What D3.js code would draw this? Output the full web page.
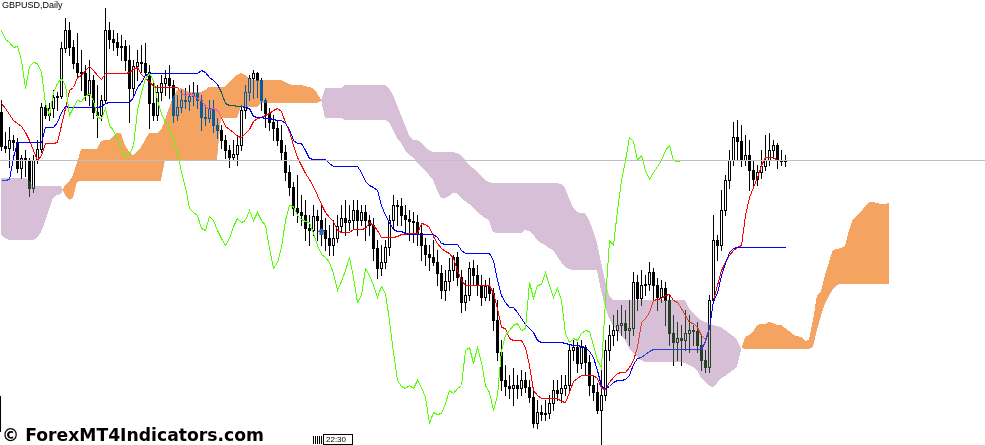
<!DOCTYPE html>
<html><head><meta charset="utf-8">
<script src="https://cdn.jsdelivr.net/npm/d3@7/dist/d3.min.js"></script>
<style>html,body{margin:0;padding:0;background:#fff;overflow:hidden}svg{display:block}</style>
</head><body><svg id="chart" width="985" height="445"></svg>
<script>
// ---- labels ----
const symbolLabel = "GBPUSD,Daily";
const watermark = "\u00A9 ForexMT4Indicators.com";
const timeLabel = "22:30";

// ---- daily candles (price) ----
const open = [
1.4888,1.4854,1.4852,1.4860,1.4858,1.4832,1.4842,1.4840,1.4812,1.4840,
1.4851,1.4893,1.4885,1.4892,1.4903,1.4904,1.4952,1.4970,1.4953,1.4937,
1.4928,1.4927,1.4905,1.4920,1.4888,1.4885,1.4900,1.4970,1.4961,1.4958,
1.4953,1.4954,1.4940,1.4912,1.4934,1.4938,1.4937,1.4928,1.4897,1.4885,
1.4908,1.4917,1.4922,1.4915,1.4885,1.4893,1.4900,1.4899,1.4904,1.4907,
1.4900,1.4883,1.4882,1.4892,1.4875,1.4870,1.4860,1.4850,1.4843,1.4846,
1.4855,1.4890,1.4908,1.4922,1.4927,1.4920,1.4900,1.4887,1.4878,1.4872,
1.4860,1.4848,1.4828,1.4813,1.4792,1.4788,1.4785,1.4772,1.4770,1.4784,
1.4780,1.4770,1.4762,1.4755,1.4762,1.4774,1.4782,1.4778,1.4780,1.4790,
1.4780,1.4788,1.4780,1.4775,1.4752,1.4732,1.4738,1.4753,1.4780,1.4795,
1.4794,1.4785,1.4781,1.4779,1.4778,1.4767,1.4755,1.4746,1.4743,1.4738,
1.4727,1.4710,1.4719,1.4730,1.4743,1.4723,1.4698,1.4705,1.4732,1.4725,
1.4715,1.4703,1.4714,1.4707,1.4680,1.4648,1.4620,1.4614,1.4612,1.4615,
1.4612,1.4620,1.4613,1.4603,1.4577,1.4588,1.4586,1.4587,1.4597,1.4610,
1.4607,1.4612,1.4615,1.4650,1.4653,1.4637,1.4653,1.4638,1.4615,1.4608,
1.4590,1.4605,1.4650,1.4665,1.4670,1.4675,1.4677,1.4670,1.4672,1.4718,
1.4702,1.4715,1.4716,1.4728,1.4715,1.4703,1.4712,1.4700,1.4667,1.4658,
1.4662,1.4660,1.4667,1.4670,1.4669,1.4655,1.4640,1.4633,1.4700,1.4760,
1.4755,1.4790,1.4820,1.4840,1.4863,1.4859,1.4840,1.4845,1.4830,1.4821,
1.4828,1.4834,1.4840,1.4850,1.4855,1.4840,1.4839];
const high = [
1.4900,1.4868,1.4873,1.4865,1.4862,1.4845,1.4850,1.4842,1.4845,1.4860,
1.4897,1.4900,1.4897,1.4910,1.4908,1.4958,1.4982,1.4978,1.4960,1.4967,
1.4950,1.4935,1.4940,1.4925,1.4915,1.4905,1.4992,1.4978,1.4970,1.4967,
1.4965,1.4960,1.4955,1.4940,1.4950,1.4955,1.4957,1.4935,1.4917,1.4915,
1.4925,1.4930,1.4935,1.4920,1.4905,1.4910,1.4912,1.4915,1.4918,1.4915,
1.4905,1.4895,1.4900,1.4900,1.4882,1.4875,1.4865,1.4855,1.4860,1.4865,
1.4895,1.4915,1.4925,1.4930,1.4928,1.4922,1.4902,1.4892,1.4885,1.4880,
1.4875,1.4855,1.4835,1.4818,1.4825,1.4805,1.4800,1.4785,1.4795,1.4790,
1.4795,1.4782,1.4775,1.4780,1.4785,1.4795,1.4800,1.4795,1.4800,1.4800,
1.4795,1.4795,1.4785,1.4782,1.4760,1.4755,1.4760,1.4785,1.4805,1.4800,
1.4802,1.4795,1.4790,1.4788,1.4785,1.4775,1.4762,1.4755,1.4760,1.4750,
1.4735,1.4730,1.4742,1.4745,1.4748,1.4730,1.4720,1.4738,1.4740,1.4735,
1.4725,1.4720,1.4722,1.4712,1.4700,1.4660,1.4635,1.4625,1.4632,1.4625,
1.4630,1.4628,1.4620,1.4610,1.4600,1.4595,1.4600,1.4605,1.4620,1.4620,
1.4625,1.4625,1.4655,1.4660,1.4658,1.4660,1.4655,1.4645,1.4625,1.4617,
1.4630,1.4660,1.4675,1.4685,1.4690,1.4695,1.4690,1.4700,1.4728,1.4725,
1.4730,1.4725,1.4738,1.4732,1.4722,1.4720,1.4718,1.4705,1.4685,1.4678,
1.4675,1.4690,1.4685,1.4675,1.4678,1.4665,1.4650,1.4705,1.4785,1.4765,
1.4810,1.4825,1.4850,1.4878,1.4880,1.4875,1.4865,1.4860,1.4840,1.4835,
1.4850,1.4865,1.4867,1.4860,1.4857,1.4850,1.4845];
const low = [
1.4850,1.4848,1.4833,1.4850,1.4828,1.4822,1.4824,1.4804,1.4808,1.4837,
1.4848,1.4882,1.4880,1.4883,1.4890,1.4902,1.4948,1.4945,1.4932,1.4923,
1.4910,1.4900,1.4895,1.4882,1.4863,1.4880,1.4898,1.4952,1.4950,1.4945,
1.4940,1.4930,1.4878,1.4905,1.4920,1.4928,1.4925,1.4872,1.4880,1.4880,
1.4900,1.4905,1.4902,1.4878,1.4880,1.4888,1.4892,1.4890,1.4895,1.4892,
1.4870,1.4875,1.4878,1.4868,1.4862,1.4852,1.4842,1.4833,1.4840,1.4835,
1.4850,1.4882,1.4900,1.4902,1.4903,1.4890,1.4873,1.4870,1.4860,1.4855,
1.4840,1.4820,1.4805,1.4785,1.4778,1.4775,1.4760,1.4755,1.4765,1.4760,
1.4755,1.4750,1.4745,1.4745,1.4758,1.4768,1.4765,1.4770,1.4772,1.4765,
1.4775,1.4760,1.4765,1.4740,1.4722,1.4725,1.4732,1.4745,1.4772,1.4775,
1.4775,1.4768,1.4760,1.4758,1.4755,1.4740,1.4735,1.4730,1.4735,1.4715,
1.4702,1.4700,1.4710,1.4720,1.4715,1.4688,1.4690,1.4700,1.4715,1.4705,
1.4695,1.4700,1.4700,1.4670,1.4640,1.4610,1.4605,1.4602,1.4595,1.4602,
1.4605,1.4608,1.4598,1.4573,1.4572,1.4580,1.4580,1.4582,1.4590,1.4600,
1.4598,1.4605,1.4610,1.4640,1.4628,1.4632,1.4625,1.4605,1.4600,1.4587,
1.4555,1.4600,1.4640,1.4655,1.4660,1.4665,1.4662,1.4655,1.4665,1.4690,
1.4695,1.4705,1.4710,1.4700,1.4690,1.4698,1.4675,1.4655,1.4635,1.4640,
1.4635,1.4650,1.4648,1.4655,1.4648,1.4630,1.4628,1.4628,1.4697,1.4740,
1.4750,1.4785,1.4812,1.4835,1.4840,1.4834,1.4835,1.4810,1.4815,1.4815,
1.4822,1.4830,1.4835,1.4842,1.4832,1.4835,1.4834];
const close = [
1.4854,1.4852,1.4860,1.4858,1.4832,1.4842,1.4840,1.4812,1.4840,1.4851,
1.4893,1.4885,1.4892,1.4903,1.4904,1.4952,1.4970,1.4953,1.4937,1.4928,
1.4927,1.4905,1.4920,1.4888,1.4885,1.4900,1.4970,1.4961,1.4958,1.4953,
1.4954,1.4940,1.4912,1.4934,1.4938,1.4937,1.4928,1.4897,1.4885,1.4908,
1.4917,1.4922,1.4915,1.4885,1.4893,1.4900,1.4899,1.4904,1.4907,1.4900,
1.4883,1.4882,1.4892,1.4875,1.4870,1.4860,1.4850,1.4843,1.4846,1.4855,
1.4890,1.4908,1.4922,1.4927,1.4920,1.4900,1.4887,1.4878,1.4872,1.4860,
1.4848,1.4828,1.4813,1.4792,1.4788,1.4785,1.4772,1.4770,1.4784,1.4780,
1.4770,1.4762,1.4755,1.4762,1.4774,1.4782,1.4778,1.4780,1.4790,1.4780,
1.4788,1.4780,1.4775,1.4752,1.4732,1.4738,1.4753,1.4780,1.4795,1.4794,
1.4785,1.4781,1.4779,1.4778,1.4767,1.4755,1.4746,1.4743,1.4738,1.4727,
1.4710,1.4719,1.4730,1.4743,1.4723,1.4698,1.4705,1.4732,1.4725,1.4715,
1.4703,1.4714,1.4707,1.4680,1.4648,1.4620,1.4614,1.4612,1.4615,1.4612,
1.4620,1.4613,1.4603,1.4577,1.4588,1.4586,1.4587,1.4597,1.4610,1.4607,
1.4612,1.4615,1.4650,1.4653,1.4637,1.4653,1.4638,1.4615,1.4608,1.4590,
1.4605,1.4650,1.4665,1.4670,1.4675,1.4677,1.4670,1.4672,1.4718,1.4702,
1.4715,1.4716,1.4728,1.4715,1.4703,1.4712,1.4700,1.4667,1.4658,1.4662,
1.4660,1.4667,1.4670,1.4669,1.4655,1.4640,1.4633,1.4700,1.4760,1.4755,
1.4790,1.4820,1.4840,1.4863,1.4859,1.4840,1.4845,1.4830,1.4821,1.4828,
1.4834,1.4840,1.4850,1.4855,1.4840,1.4839,1.4840];

// ---- Ichimoku lines (price per bar) ----
const tenkan = [
1.4897,1.4892,1.4886,1.4880,1.4877,1.4874,1.4868,1.4860,1.4850,1.4840,
1.4845,1.4857,1.4857,1.4857,1.4858,1.4875,1.4892,1.4910,1.4913,1.4923,
1.4925,1.4930,1.4934,1.4930,1.4925,1.4921,1.4927,1.4927,1.4927,1.4927,
1.4927,1.4927,1.4928,1.4931,1.4933,1.4926,1.4922,1.4919,1.4914,1.4913,
1.4913,1.4913,1.4913,1.4913,1.4913,1.4907,1.4905,1.4907,1.4905,1.4902,
1.4900,1.4894,1.4891,1.4892,1.4890,1.4883,1.4874,1.4871,1.4868,1.4864,
1.4863,1.4867,1.4871,1.4879,1.4882,1.4883,1.4885,1.4887,1.4890,1.4892,
1.4889,1.4878,1.4869,1.4855,1.4843,1.4835,1.4827,1.4821,1.4814,1.4805,
1.4796,1.4788,1.4783,1.4779,1.4770,1.4768,1.4768,1.4768,1.4771,1.4771,
1.4771,1.4772,1.4778,1.4775,1.4770,1.4763,1.4763,1.4763,1.4763,1.4764,
1.4766,1.4766,1.4767,1.4767,1.4767,1.4777,1.4776,1.4773,1.4764,1.4757,
1.4752,1.4749,1.4747,1.4742,1.4730,1.4720,1.4715,1.4715,1.4715,1.4715,
1.4715,1.4715,1.4715,1.4707,1.4692,1.4673,1.4672,1.4662,1.4660,1.4660,
1.4660,1.4653,1.4635,1.4610,1.4605,1.4602,1.4602,1.4602,1.4602,1.4602,
1.4599,1.4598,1.4608,1.4619,1.4622,1.4625,1.4625,1.4625,1.4625,1.4622,
1.4612,1.4611,1.4618,1.4623,1.4627,1.4628,1.4628,1.4633,1.4640,1.4653,
1.4678,1.4682,1.4688,1.4700,1.4701,1.4702,1.4705,1.4706,1.4700,1.4698,
1.4692,1.4685,1.4678,1.4677,1.4673,1.4665,1.4661,1.4672,1.4700,1.4715,
1.4730,1.4738,1.4745,1.4750,1.4753,1.4755,1.4785,1.4803,1.4813,1.4823,
1.4835,1.4843,1.4843,1.4843,1.4840,1.4840,1.4840];
const kijun = [
1.4820,1.4820,1.4821,1.4843,1.4858,1.4858,1.4858,1.4858,1.4858,1.4858,
1.4858,1.4873,1.4873,1.4873,1.4878,1.4888,1.4894,1.4893,1.4893,1.4893,
1.4893,1.4893,1.4893,1.4893,1.4893,1.4894,1.4897,1.4898,1.4898,1.4898,
1.4898,1.4898,1.4898,1.4903,1.4913,1.4918,1.4925,1.4927,1.4927,1.4927,
1.4927,1.4927,1.4927,1.4927,1.4927,1.4927,1.4927,1.4927,1.4927,1.4927,
1.4930,1.4928,1.4923,1.4920,1.4916,1.4908,1.4897,1.4895,1.4895,1.4894,
1.4894,1.4893,1.4892,1.4884,1.4883,1.4883,1.4882,1.4882,1.4881,1.4880,
1.4880,1.4877,1.4871,1.4860,1.4857,1.4857,1.4850,1.4842,1.4841,1.4841,
1.4841,1.4841,1.4837,1.4834,1.4834,1.4834,1.4834,1.4834,1.4834,1.4834,
1.4828,1.4819,1.4815,1.4813,1.4810,1.4795,1.4785,1.4778,1.4771,1.4769,
1.4769,1.4767,1.4766,1.4766,1.4766,1.4766,1.4766,1.4766,1.4766,1.4763,
1.4757,1.4756,1.4756,1.4756,1.4756,1.4750,1.4747,1.4747,1.4747,1.4747,
1.4747,1.4747,1.4747,1.4740,1.4720,1.4705,1.4698,1.4693,1.4693,1.4688,
1.4682,1.4676,1.4672,1.4668,1.4660,1.4658,1.4658,1.4658,1.4658,1.4658,
1.4658,1.4657,1.4656,1.4655,1.4655,1.4654,1.4653,1.4649,1.4643,1.4630,
1.4614,1.4612,1.4614,1.4618,1.4620,1.4620,1.4621,1.4625,1.4636,1.4642,
1.4643,1.4646,1.4649,1.4651,1.4651,1.4651,1.4651,1.4651,1.4651,1.4651,
1.4651,1.4651,1.4651,1.4651,1.4651,1.4651,1.4659,1.4672,1.4700,1.4707,
1.4725,1.4737,1.4748,1.4752,1.4753,1.4753,1.4753,1.4753,1.4753,1.4753,
1.4753,1.4753,1.4753,1.4753,1.4753,1.4753,1.4753];
// Senkou spans: 197 bars + 26 projected bars
const spanA = [
1.4765,1.4762,1.4760,1.4760,1.4760,1.4760,1.4760,1.4760,1.4760,1.4762,
1.4768,1.4778,1.4790,1.4802,1.4805,1.4806,1.4815,1.4818,1.4825,1.4837,
1.4851,1.4851,1.4851,1.4851,1.4851,1.4859,1.4860,1.4860,1.4864,1.4867,
1.4867,1.4855,1.4848,1.4845,1.4848,1.4853,1.4860,1.4867,1.4867,1.4867,
1.4870,1.4880,1.4892,1.4903,1.4910,1.4912,1.4910,1.4908,1.4908,1.4908,
1.4908,1.4910,1.4913,1.4913,1.4913,1.4913,1.4913,1.4918,1.4922,1.4925,
1.4927,1.4925,1.4922,1.4920,1.4920,1.4920,1.4920,1.4920,1.4920,1.4920,
1.4920,1.4918,1.4916,1.4915,1.4915,1.4915,1.4914,1.4913,1.4912,1.4907,
1.4900,1.4882,1.4882,1.4882,1.4882,1.4882,1.4880,1.4880,1.4880,1.4880,
1.4880,1.4880,1.4880,1.4880,1.4880,1.4880,1.4880,1.4878,1.4870,1.4862,
1.4857,1.4850,1.4845,1.4843,1.4837,1.4833,1.4829,1.4825,1.4820,1.4810,
1.4802,1.4802,1.4804,1.4807,1.4807,1.4802,1.4799,1.4796,1.4792,1.4788,
1.4785,1.4782,1.4780,1.4768,1.4767,1.4767,1.4767,1.4767,1.4767,1.4767,
1.4767,1.4770,1.4769,1.4766,1.4760,1.4757,1.4755,1.4752,1.4750,1.4744,
1.4738,1.4733,1.4731,1.4730,1.4730,1.4730,1.4730,1.4730,1.4730,1.4730,
1.4710,1.4693,1.4682,1.4674,1.4670,1.4665,1.4660,1.4652,1.4647,1.4643,
1.4640,1.4638,1.4638,1.4638,1.4638,1.4638,1.4638,1.4638,1.4638,1.4638,
1.4638,1.4637,1.4635,1.4633,1.4630,1.4622,1.4618,1.4614,1.4613,1.4617,
1.4622,1.4624,1.4627,1.4630,1.4634,1.4650,1.4663,1.4665,1.4668,1.4675,
1.4676,1.4676,1.4678,1.4677,1.4675,1.4675,1.4672,1.4669,1.4665,1.4664,
1.4663,1.4659,1.4660,1.4680,1.4705,1.4709,1.4725,1.4738,1.4750,1.4751,
1.4752,1.4754,1.4770,1.4781,1.4785,1.4788,1.4794,1.4798,1.4798,1.4797,
1.4796,1.4796,1.4797];
const spanB = [
1.4822,1.4822,1.4822,1.4822,1.4822,1.4822,1.4822,1.4820,1.4814,1.4814,
1.4814,1.4814,1.4814,1.4814,1.4814,1.4814,1.4805,1.4800,1.4802,1.4818,
1.4819,1.4819,1.4819,1.4819,1.4819,1.4819,1.4819,1.4819,1.4819,1.4819,
1.4819,1.4819,1.4819,1.4819,1.4819,1.4819,1.4819,1.4819,1.4819,1.4819,
1.4819,1.4840,1.4840,1.4840,1.4840,1.4840,1.4840,1.4840,1.4840,1.4840,
1.4840,1.4840,1.4840,1.4840,1.4840,1.4882,1.4882,1.4882,1.4882,1.4882,
1.4893,1.4893,1.4893,1.4893,1.4893,1.4897,1.4897,1.4897,1.4897,1.4897,
1.4897,1.4897,1.4897,1.4897,1.4897,1.4897,1.4897,1.4897,1.4897,1.4897,
1.4899,1.4912,1.4912,1.4912,1.4912,1.4912,1.4915,1.4915,1.4915,1.4915,
1.4915,1.4915,1.4915,1.4915,1.4915,1.4915,1.4915,1.4912,1.4905,1.4895,
1.4885,1.4875,1.4865,1.4860,1.4860,1.4858,1.4853,1.4850,1.4848,1.4848,
1.4848,1.4848,1.4848,1.4848,1.4847,1.4845,1.4840,1.4835,1.4832,1.4828,
1.4824,1.4820,1.4818,1.4817,1.4817,1.4817,1.4817,1.4817,1.4817,1.4817,
1.4817,1.4817,1.4817,1.4817,1.4817,1.4817,1.4817,1.4817,1.4817,1.4817,
1.4816,1.4812,1.4802,1.4793,1.4788,1.4787,1.4787,1.4780,1.4770,1.4757,
1.4738,1.4720,1.4705,1.4700,1.4700,1.4700,1.4700,1.4700,1.4700,1.4700,
1.4700,1.4700,1.4700,1.4700,1.4700,1.4700,1.4700,1.4700,1.4700,1.4700,
1.4700,1.4700,1.4692,1.4687,1.4683,1.4680,1.4678,1.4677,1.4675,1.4674,
1.4673,1.4670,1.4667,1.4664,1.4660,1.4652,1.4651,1.4651,1.4651,1.4651,
1.4651,1.4651,1.4651,1.4651,1.4651,1.4651,1.4651,1.4651,1.4651,1.4651,
1.4651,1.4651,1.4651,1.4653,1.4670,1.4684,1.4696,1.4704,1.4711,1.4715,
1.4716,1.4716,1.4716,1.4716,1.4716,1.4716,1.4716,1.4716,1.4716,1.4716,
1.4716,1.4716,1.4716];
const chikouShift = 26;        // lagging span plotted 26 bars back
// arrow object on chart
const arrowBars = [80];
const arrowPrices = [1.4768];

// ---- drawing ----
const W = 985, H = 445;
const svg = d3.select("#chart");
svg.append("rect").attr("width", W).attr("height", H).attr("fill", "#fff");

const x = d3.scaleLinear().domain([0, 222]).range([1, 889]);
const y = d3.scaleLinear().domain([1.4555, 1.5000]).range([H, 0]);
const px = i => Math.round(x(i));
const py = v => Math.round(y(v));

// candles
const cg = svg.append("g").attr("shape-rendering", "crispEdges");
const bars = d3.range(close.length).map(i => ({
  i, cx: px(i), yo: py(open[i]), yc: py(close[i]), yh: py(high[i]), yl: py(low[i]),
  up: close[i] > open[i]
}));
cg.selectAll("rect.wick").data(bars).join("rect").attr("class", "wick")
  .attr("x", d => d.cx).attr("y", d => d.yh).attr("width", 1)
  .attr("height", d => d.yl - d.yh + 1).attr("fill", "#000");
cg.selectAll("rect.body").data(bars).join("rect").attr("class", "body")
  .attr("x", d => d.cx - 1).attr("y", d => Math.min(d.yo, d.yc)).attr("width", 3)
  .attr("height", d => Math.abs(d.yo - d.yc) + 1).attr("fill", "#000");
cg.selectAll("rect.hollow").data(bars.filter(d => d.up && Math.abs(d.yo - d.yc) >= 2))
  .join("rect").attr("class", "hollow")
  .attr("x", d => d.cx).attr("y", d => Math.min(d.yo, d.yc) + 1).attr("width", 1)
  .attr("height", d => Math.abs(d.yo - d.yc) - 1).attr("fill", "#fff");

// tenkan / kijun
const lineOf = arr => d3.line().x((d, i) => px(i) + 0.5).y(d => py(d) + 0.5)(arr);
svg.append("path").attr("d", lineOf(tenkan)).attr("fill", "none").attr("stroke", "#ff0000")
  .attr("stroke-width", 1).attr("shape-rendering", "crispEdges");
svg.append("path").attr("d", lineOf(kijun)).attr("fill", "none").attr("stroke", "#0000ff")
  .attr("stroke-width", 1).attr("shape-rendering", "crispEdges");

// arrow object
const ag = svg.append("g");
arrowBars.forEach((b, k) => {
  const cx = px(b) + 0.5, cy = py(arrowPrices[k]);
  ag.append("path").attr("d",
    `M${cx - 4},${cy} L${cx},${cy - 4} L${cx + 4},${cy} L${cx + 2},${cy} L${cx + 2},${cy + 3} L${cx - 2},${cy + 3} L${cx - 2},${cy} Z`)
    .attr("fill", "#2f66a8");
});

// kumo (cloud) drawn with a difference blend, like the terminal's XOR fill
const cIdx = d3.range(spanA.length);
const defs = svg.append("defs");
defs.append("clipPath").attr("id", "aboveB").append("path")
  .attr("d", d3.area().x(i => x(i)).y0(0).y1(i => y(spanB[i]))(cIdx));
defs.append("clipPath").attr("id", "belowB").append("path")
  .attr("d", d3.area().x(i => x(i)).y0(H).y1(i => y(spanB[i]))(cIdx));
const band = d3.area().x(i => x(i)).y0(i => y(spanB[i])).y1(i => y(spanA[i]));
const kumo = svg.append("g").style("mix-blend-mode", "difference").attr("shape-rendering", "crispEdges");
// inverted SandyBrown (#F4A460) and inverted Thistle (#D8BFD8)
kumo.append("path").attr("d", band(cIdx)).attr("fill", "#0b5b9f").attr("clip-path", "url(#aboveB)");
kumo.append("path").attr("d", band(cIdx)).attr("fill", "#274027").attr("clip-path", "url(#belowB)");

// chikou span
const chikou = close.slice(chikouShift);
svg.append("path").attr("d", lineOf(chikou)).attr("fill", "none").attr("stroke", "#55ff00")
  .attr("stroke-width", 1).attr("shape-rendering", "crispEdges");

// bid line
const bidY = py(close[close.length - 1]) + 0.5;
svg.append("line").attr("x1", 0).attr("x2", W).attr("y1", bidY).attr("y2", bidY)
  .attr("stroke", "#c0c0c0").attr("stroke-width", 1).attr("shape-rendering", "crispEdges");

// left frame fragment
svg.append("line").attr("x1", 0.5).attr("x2", 0.5).attr("y1", 396).attr("y2", 432)
  .attr("stroke", "#000").attr("stroke-width", 1);

// texts
svg.append("text").attr("x", 2).attr("y", 8).text(symbolLabel)
  .attr("font-family", "Liberation Sans, Arial, sans-serif").attr("font-size", "9px").attr("fill", "#000");
svg.append("text").attr("x", 2).attr("y", 441).text(watermark)
  .attr("font-family", "DejaVu Sans, Verdana, sans-serif").attr("font-weight", "bold")
  .attr("font-size", "17px").attr("textLength", 262).attr("lengthAdjust", "spacingAndGlyphs").attr("fill", "#000");

// time marker on the bottom
const tg = svg.append("g").attr("shape-rendering", "crispEdges");
[313, 315, 317, 319, 321].forEach(xx => tg.append("line").attr("x1", xx + 0.5).attr("x2", xx + 0.5)
  .attr("y1", 436).attr("y2", 444).attr("stroke", "#000"));
tg.append("rect").attr("x", 323.5).attr("y", 434.5).attr("width", 29).attr("height", 10)
  .attr("fill", "#fff").attr("stroke", "#000");
svg.append("text").attr("x", 326).attr("y", 442).text(timeLabel)
  .attr("font-family", "Liberation Sans, Arial, sans-serif").attr("font-size", "8px").attr("fill", "#000");
</script></body></html>
